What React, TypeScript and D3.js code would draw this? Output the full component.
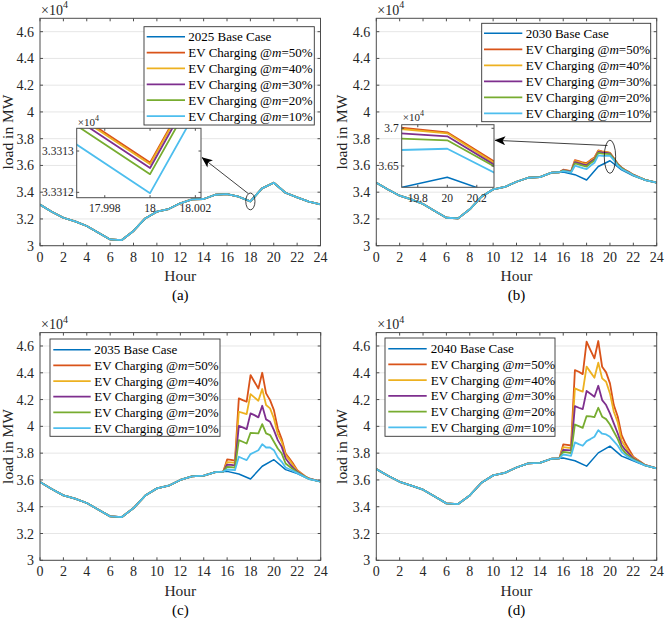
import React from 'react';
import * as d3 from 'd3';

// ---------------- DATA ----------------
const HOURS = [0, 1, 2, 3, 4, 5, 6, 7, 8, 9, 10, 11, 12, 13, 14, 15, 16, 17, 18, 19, 20, 21, 22, 23, 24];
// 20-minute grid of the EV charging window
const EV_HOURS = [15.67, 16, 16.33, 16.67, 17, 17.33, 17.67, 18, 18.33, 18.67, 19, 19.33, 19.67, 20, 20.33, 20.67, 21, 21.33, 21.67, 22, 22.33, 22.67, 23];

const BASE_2025 = [3.307, 3.254, 3.209, 3.182, 3.147, 3.097, 3.047, 3.042, 3.110, 3.204, 3.254, 3.274, 3.317, 3.346, 3.349, 3.381, 3.386, 3.366, 3.3311, 3.429, 3.471, 3.396, 3.361, 3.329, 3.309];
const BASE_2030 = [3.471, 3.420, 3.374, 3.346, 3.312, 3.259, 3.209, 3.204, 3.272, 3.366, 3.421, 3.439, 3.478, 3.508, 3.513, 3.546, 3.551, 3.531, 3.491, 3.592, 3.635, 3.567, 3.523, 3.491, 3.471];
const BASE_2035 = [3.585, 3.532, 3.485, 3.460, 3.428, 3.378, 3.328, 3.323, 3.390, 3.483, 3.537, 3.557, 3.600, 3.627, 3.632, 3.659, 3.664, 3.644, 3.607, 3.702, 3.751, 3.677, 3.647, 3.607, 3.588];
const BASE_2040 = [3.681, 3.631, 3.586, 3.557, 3.527, 3.477, 3.425, 3.420, 3.484, 3.579, 3.634, 3.653, 3.693, 3.723, 3.728, 3.758, 3.763, 3.743, 3.703, 3.802, 3.852, 3.778, 3.743, 3.708, 3.686];

const EV50_2030 = [3.549, 3.568, 3.563, 3.557, 3.640, 3.632, 3.622, 3.618, 3.640, 3.660, 3.712, 3.705, 3.7011, 3.6946, 3.6546, 3.612, 3.585, 3.565, 3.548, 3.531, 3.518, 3.505, 3.492];
const EV40_2030 = [3.549, 3.566, 3.561, 3.555, 3.633, 3.626, 3.616, 3.611, 3.634, 3.654, 3.708, 3.702, 3.6994, 3.6934, 3.6524, 3.610, 3.583, 3.564, 3.547, 3.530, 3.517, 3.505, 3.492];
const EV30_2030 = [3.549, 3.564, 3.559, 3.553, 3.625, 3.618, 3.608, 3.602, 3.626, 3.646, 3.702, 3.697, 3.6936, 3.6894, 3.6503, 3.607, 3.581, 3.562, 3.546, 3.529, 3.516, 3.504, 3.492];
const EV20_2030 = [3.549, 3.561, 3.556, 3.550, 3.615, 3.608, 3.598, 3.592, 3.616, 3.637, 3.694, 3.689, 3.6863, 3.6841, 3.6482, 3.604, 3.578, 3.560, 3.544, 3.528, 3.515, 3.504, 3.492];
const EV10_2030 = [3.549, 3.558, 3.553, 3.547, 3.598, 3.590, 3.580, 3.572, 3.597, 3.620, 3.675, 3.672, 3.6711, 3.6729, 3.6399, 3.598, 3.574, 3.558, 3.543, 3.527, 3.514, 3.503, 3.491];

const EV50_2035 = [3.662, 3.753, 3.750, 3.745, 4.209, 4.196, 4.184, 4.383, 4.333, 4.283, 4.400, 4.246, 4.196, 4.121, 3.984, 3.905, 3.797, 3.760, 3.718, 3.673, 3.650, 3.628, 3.611];
const EV40_2035 = [3.662, 3.733, 3.731, 3.727, 4.109, 4.100, 4.092, 4.241, 4.216, 4.191, 4.279, 4.159, 4.134, 4.059, 3.942, 3.885, 3.785, 3.748, 3.705, 3.668, 3.646, 3.626, 3.610];
const EV30_2035 = [3.662, 3.715, 3.713, 3.709, 4.004, 3.992, 3.979, 4.097, 4.084, 4.067, 4.154, 4.052, 4.034, 3.972, 3.897, 3.847, 3.760, 3.723, 3.688, 3.661, 3.642, 3.624, 3.609];
const EV20_2035 = [3.662, 3.698, 3.696, 3.692, 3.897, 3.885, 3.872, 3.952, 3.950, 3.947, 4.017, 3.947, 3.935, 3.885, 3.835, 3.797, 3.723, 3.700, 3.678, 3.656, 3.639, 3.623, 3.608];
const EV10_2035 = [3.662, 3.678, 3.676, 3.673, 3.773, 3.760, 3.748, 3.793, 3.807, 3.822, 3.867, 3.842, 3.842, 3.822, 3.768, 3.735, 3.693, 3.680, 3.666, 3.651, 3.636, 3.621, 3.607];

const EV50_2040 = [3.761, 3.865, 3.862, 3.857, 4.420, 4.408, 4.390, 4.632, 4.570, 4.508, 4.637, 4.445, 4.403, 4.321, 4.159, 4.072, 3.935, 3.872, 3.822, 3.773, 3.752, 3.732, 3.712];
const EV40_2040 = [3.761, 3.845, 3.842, 3.837, 4.283, 4.271, 4.259, 4.446, 4.405, 4.363, 4.475, 4.358, 4.333, 4.246, 4.109, 4.029, 3.890, 3.847, 3.800, 3.766, 3.748, 3.730, 3.711];
const EV30_2040 = [3.761, 3.825, 3.823, 3.820, 4.151, 4.139, 4.129, 4.264, 4.244, 4.221, 4.303, 4.196, 4.159, 4.097, 4.022, 3.947, 3.860, 3.822, 3.790, 3.760, 3.744, 3.728, 3.710];
const EV20_2040 = [3.761, 3.810, 3.806, 3.800, 4.014, 4.002, 3.989, 4.077, 4.074, 4.069, 4.139, 4.072, 4.054, 4.014, 3.960, 3.905, 3.835, 3.800, 3.775, 3.754, 3.740, 3.725, 3.709];
const EV10_2040 = [3.761, 3.790, 3.786, 3.780, 3.880, 3.867, 3.855, 3.890, 3.905, 3.922, 3.972, 3.945, 3.940, 3.922, 3.890, 3.855, 3.810, 3.785, 3.765, 3.749, 3.736, 3.722, 3.708];

// zoomed detail of the 2025 case around hour 18 (differences below 1 MW)
const INSET_A_HOURS = [17.996, 18, 18.003];
const INSET_A_EV50 = [3.331417, 3.331272, 3.331565];
const INSET_A_EV40 = [3.331413, 3.331268, 3.331561];
const INSET_A_EV30 = [3.331404, 3.331259, 3.331552];
const INSET_A_EV20 = [3.331389, 3.331244, 3.331537];
const INSET_A_EV10 = [3.331343, 3.331198, 3.331491];

const X_TICKS = [0, 2, 4, 6, 8, 10, 12, 14, 16, 18, 20, 22, 24];
const Y_TICKS = [3, 3.2, 3.4, 3.6, 3.8, 4, 4.2, 4.4, 4.6];
const Y_TICK_LABELS = ['3', '3.2', '3.4', '3.6', '3.8', '4', '4.2', '4.4', '4.6'];
const INSET_A_X_TICKS = [17.998, 18, 18.002];
const INSET_A_X_LABELS = ['17.998', '18', '18.002'];
const INSET_A_Y_TICKS = [3.3312, 3.3313];
const INSET_A_Y_LABELS = ['3.3312', '3.3313'];
const INSET_B_X_TICKS = [19.8, 20, 20.2];
const INSET_B_X_LABELS = ['19.8', '20', '20.2'];
const INSET_B_Y_TICKS = [3.65, 3.7];
const INSET_B_Y_LABELS = ['3.65', '3.7'];

const M_LEVELS = ['50%', '40%', '30%', '20%', '10%'];
const COLORS = ['#0072BD', '#D95319', '#EDB120', '#7E2F8E', '#77AC30', '#4DBEEE'];

// ---------------- STYLE ----------------
const FONT = "'Liberation Serif','Times New Roman',serif";
const AX = '#4d4d4d';
const LW_BASE = 1.5;
const LW_EV = 1.8;
const lw = (i: number) => (i === 0 ? LW_BASE : LW_EV);

type Pt = [number, number];

function makeEv(base: number[], vals: number[]): Pt[] {
  const pts: Pt[] = [];
  HOURS.forEach((h, i) => { if (h < EV_HOURS[0]) pts.push([h, base[i]]); });
  EV_HOURS.forEach((h, i) => pts.push([h, vals[i]]));
  pts.push([24, base[24]]);
  return pts;
}

type InsetCfg = {
  box: [number, number, number, number];
  xd: [number, number]; yd: [number, number];
  xt: number[]; xl: string[]; yt: number[]; yl: string[];
  series: { pts: Pt[]; color: string; w: number }[];
  expY: number; labY: number;
  ell: { h: number; v: number; rx: number; ry: number };
  arrow: [number, number, number, number];
};

function Inset({ id, c }: { id: string; c: InsetCfg }) {
  const [bx0, by0, bx1, by1] = c.box;
  const x = d3.scaleLinear().domain(c.xd).range([bx0, bx1]);
  const y = d3.scaleLinear().domain(c.yd).range([by1, by0]);
  const line = d3.line<Pt>().x(d => x(d[0])).y(d => y(d[1]));
  return (
    <g>
      <clipPath id={id}><rect x={bx0} y={by0} width={bx1 - bx0} height={by1 - by0} /></clipPath>
      <rect x={bx0} y={by0} width={bx1 - bx0} height={by1 - by0} fill="#fff" />
      <g clipPath={`url(#${id})`}>
        {c.series.map((s, i) => (
          <path key={i} d={line(s.pts) || ''} fill="none" stroke={s.color} strokeWidth={s.w} strokeLinejoin="round" />
        ))}
      </g>
      {c.xt.map((t, i) => (
        <g key={'x' + i}>
          <line x1={x(t)} x2={x(t)} y1={by1} y2={by1 - 2.5} stroke={AX} />
          <line x1={x(t)} x2={x(t)} y1={by0} y2={by0 + 2.5} stroke={AX} />
          <text x={x(t)} y={c.labY} textAnchor="middle" fontSize={11.5} fill="#262626">{c.xl[i]}</text>
        </g>
      ))}
      {c.yt.map((t, i) => (
        <g key={'y' + i}>
          <line x1={bx0} x2={bx0 + 2.5} y1={y(t)} y2={y(t)} stroke={AX} />
          <line x1={bx1} x2={bx1 - 2.5} y1={y(t)} y2={y(t)} stroke={AX} />
          <text x={bx0 - 3} y={y(t) + 4} textAnchor="end" fontSize={11.5} fill="#262626">{c.yl[i]}</text>
        </g>
      ))}
      <rect x={bx0} y={by0} width={bx1 - bx0} height={by1 - by0} fill="none" stroke={AX} strokeWidth={1} />
      <text x={bx0 + 1} y={c.expY} fontSize={11} fill="#262626">×10<tspan dy={-5} fontSize={8}>4</tspan></text>
    </g>
  );
}

type PanelCfg = {
  id: string; caption: string; year: string;
  base: number[]; ev: number[][] | null;
  x0: number; x1: number; yTop: number; yBot: number;
  lg: { x: number; y: number; w: number; h: number; r0: number; dr: number; l0: number; l1: number; tx: number };
  ylabX: number;
  inset: 'A' | 'B' | null;
};

function Panel({ p }: { p: PanelCfg }) {
  const x = d3.scaleLinear().domain([0, 24]).range([p.x0, p.x1]);
  const y = d3.scaleLinear().domain([3, 4.7]).range([p.yBot, p.yTop]);
  const line = d3.line<Pt>().x(d => x(d[0])).y(d => y(d[1]));
  const basePts: Pt[] = HOURS.map((h, i) => [h, p.base[i]]);
  // 2025: EV curves differ from the base by < 1 MW and coincide with it at this scale
  const evPts: Pt[][] = p.ev ? p.ev.map(v => makeEv(p.base, v)) : M_LEVELS.map(() => basePts);
  const all = [basePts, ...evPts];
  const cx = (p.x0 + p.x1) / 2;

  let inset: InsetCfg | null = null;
  if (p.inset === 'A') {
    const ser = [INSET_A_EV50, INSET_A_EV40, INSET_A_EV30, INSET_A_EV20, INSET_A_EV10].map((v, i) => ({
      pts: INSET_A_HOURS.map((h, j) => [h, v[j]] as Pt), color: COLORS[i + 1], w: LW_EV,
    }));
    inset = {
      box: [76.7, 128.3, 201, 197.7], xd: [17.99676, 18.00225], yd: [3.331187, 3.331355],
      xt: INSET_A_X_TICKS, xl: INSET_A_X_LABELS, yt: INSET_A_Y_TICKS, yl: INSET_A_Y_LABELS,
      series: ser, expY: 126.3, labY: 212,
      ell: { h: 18, v: 3.331, rx: 4.6, ry: 8.4 },
      arrow: [248.3, 193.6, 202, 157.5],
    };
  } else if (p.inset === 'B') {
    inset = {
      box: [401.7, 124.7, 494, 187.3], xd: [19.691, 20.3166], yd: [3.62175, 3.70477],
      xt: INSET_B_X_TICKS, xl: INSET_B_X_LABELS, yt: INSET_B_Y_TICKS, yl: INSET_B_Y_LABELS,
      series: all.map((pts, i) => ({ pts, color: COLORS[i], w: lw(i) })), expY: 121, labY: 202,
      ell: { h: 20, v: 3.665, rx: 5.7, ry: 16.6 },
      arrow: [607.5, 145.5, 495, 140.3],
    };
  }

  return (
    <g>
      <clipPath id={'clip' + p.id}><rect x={p.x0} y={p.yTop} width={p.x1 - p.x0} height={p.yBot - p.yTop} /></clipPath>
      {Y_TICKS.map((t, i) => (
        <line key={'g' + i} x1={p.x0} x2={p.x1} y1={y(t)} y2={y(t)} stroke="#e6e6e6" strokeWidth={1} />
      ))}
      <g clipPath={`url(#clip${p.id})`}>
        {all.map((pts, i) => (
          <path key={i} d={line(pts) || ''} fill="none" stroke={COLORS[i]} strokeWidth={lw(i)} strokeLinejoin="round" />
        ))}
      </g>
      <rect x={p.x0} y={p.yTop} width={p.x1 - p.x0} height={p.yBot - p.yTop} fill="none" stroke={AX} strokeWidth={1} />
      {X_TICKS.map((t, i) => (
        <g key={'xt' + i}>
          <line x1={x(t)} x2={x(t)} y1={p.yBot} y2={p.yBot - 3} stroke={AX} />
          <line x1={x(t)} x2={x(t)} y1={p.yTop} y2={p.yTop + 3} stroke={AX} />
          <text x={x(t)} y={p.yBot + 16} textAnchor="middle" fontSize={14} fill="#262626">{t}</text>
        </g>
      ))}
      {Y_TICKS.map((t, i) => (
        <g key={'yt' + i}>
          <line x1={p.x0} x2={p.x0 + 3} y1={y(t)} y2={y(t)} stroke={AX} />
          <line x1={p.x1} x2={p.x1 - 3} y1={y(t)} y2={y(t)} stroke={AX} />
          <text x={p.x0 - 6} y={y(t) + 5} textAnchor="end" fontSize={14} fill="#262626">{Y_TICK_LABELS[i]}</text>
        </g>
      ))}
      <text x={p.x0 + 1} y={p.yTop - 3.5} fontSize={14} fill="#262626">×10<tspan dy={-6.5} fontSize={10}>4</tspan></text>
      <text x={cx} y={p.yBot + 35.5} textAnchor="middle" fontSize={15.5} fill="#262626">Hour</text>
      <text x={cx} y={p.yBot + 54.5} textAnchor="middle" fontSize={15} fill="#000">{p.caption}</text>
      <text transform={`translate(${p.ylabX},${(p.yTop + p.yBot) / 2}) rotate(-90)`} textAnchor="middle" fontSize={15.5} fill="#262626">load in MW</text>

      <rect x={p.lg.x} y={p.lg.y} width={p.lg.w} height={p.lg.h} fill="#fff" stroke="#333" strokeWidth={0.9} />
      {COLORS.map((c, i) => {
        const ry = p.lg.r0 + i * p.lg.dr;
        return (
          <g key={'lg' + i}>
            <line x1={p.lg.l0} x2={p.lg.l1} y1={ry} y2={ry} stroke={c} strokeWidth={lw(i)} />
            <text x={p.lg.tx} y={ry + 4.5} fontSize={13} fill="#000">
              {i === 0 ? `${p.year} Base Case` : (
                <>EV Charging @<tspan fontStyle="italic">m</tspan>={M_LEVELS[i - 1]}</>
              )}
            </text>
          </g>
        );
      })}

      {inset && (
        <g>
          <ellipse cx={x(inset.ell.h)} cy={y(inset.ell.v)} rx={inset.ell.rx} ry={inset.ell.ry} fill="none" stroke="#111" strokeWidth={0.8} />
          <line x1={inset.arrow[0]} y1={inset.arrow[1]} x2={inset.arrow[2]} y2={inset.arrow[3]} stroke="#111" strokeWidth={0.8} markerEnd="url(#arrowHead)" />
          <Inset id={'inset' + p.id} c={inset} />
        </g>
      )}
    </g>
  );
}

const PANELS: PanelCfg[] = [
  {
    id: 'a', caption: '(a)', year: '2025', base: BASE_2025, ev: null,
    x0: 40, x1: 320.5, yTop: 18.3, yBot: 245.7,
    lg: { x: 144, y: 26.7, w: 170.3, h: 98.3, r0: 36.7, dr: 15.87, l0: 146.7, l1: 185, tx: 188.3 },
    ylabX: 12.5, inset: 'A',
  },
  {
    id: 'b', caption: '(b)', year: '2030', base: BASE_2030,
    ev: [EV50_2030, EV40_2030, EV30_2030, EV20_2030, EV10_2030],
    x0: 376.3, x1: 656.7, yTop: 18.3, yBot: 245.7,
    lg: { x: 481.7, y: 23.3, w: 169, h: 98.4, r0: 33.3, dr: 16, l0: 484, l1: 522.3, tx: 525.7 },
    ylabX: 347, inset: 'B',
  },
  {
    id: 'c', caption: '(c)', year: '2035', base: BASE_2035,
    ev: [EV50_2035, EV40_2035, EV30_2035, EV20_2035, EV10_2035],
    x0: 40, x1: 320.7, yTop: 332.6, yBot: 560.3,
    lg: { x: 50, y: 339, w: 170, h: 97.3, r0: 349.7, dr: 15.67, l0: 53.3, l1: 90.7, tx: 94.3 },
    ylabX: 12.5, inset: null,
  },
  {
    id: 'd', caption: '(d)', year: '2040', base: BASE_2040,
    ev: [EV50_2040, EV40_2040, EV30_2040, EV20_2040, EV10_2040],
    x0: 376.3, x1: 656.7, yTop: 332.6, yBot: 560.3,
    lg: { x: 385, y: 338, w: 170, h: 98.3, r0: 348.7, dr: 15.72, l0: 388.3, l1: 426.7, tx: 430.7 },
    ylabX: 347, inset: null,
  },
];

export default function App() {
  return (
    <svg width={669} height={618} style={{ position: 'absolute', left: 0, top: 0, background: '#fff' }} fontFamily={FONT}>
      <defs>
        <marker id="arrowHead" viewBox="0 0 12 10" refX={11.5} refY={5} markerWidth={12} markerHeight={9} orient="auto" markerUnits="userSpaceOnUse">
          <path d="M0,0 L12,5 L0,10 L3,5 Z" fill="#000" />
        </marker>
      </defs>
      <rect x={0} y={0} width={669} height={618} fill="#fff" />
      {PANELS.map(p => <Panel key={p.id} p={p} />)}
    </svg>
  );
}
